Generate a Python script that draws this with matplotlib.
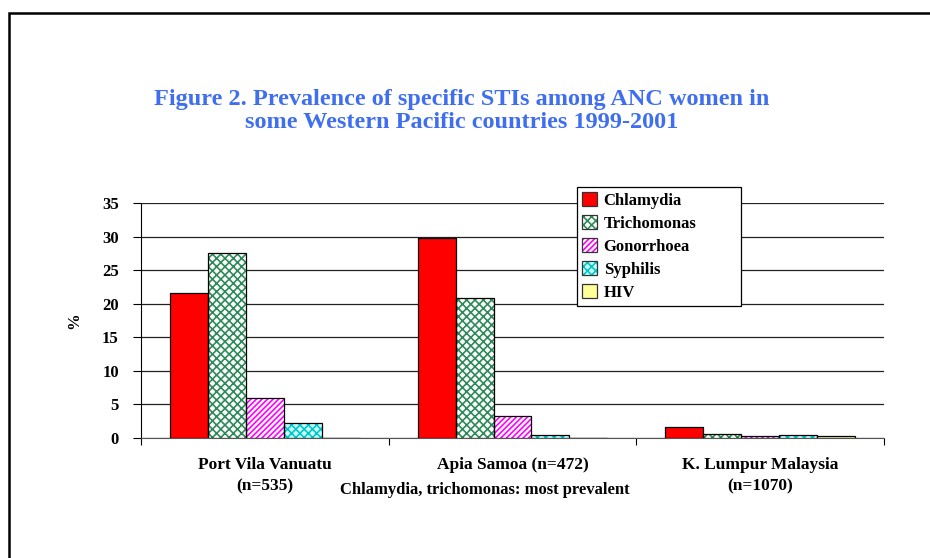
# Prevalence of specific STIs among ANC women, grouped bars by site
import numpy as np
import matplotlib.pyplot as plt
from matplotlib.patches import Patch, Rectangle

sites = ["Port Vila Vanuatu\n(n=535)", "Apia Samoa (n=472)", "K. Lumpur Malaysia\n(n=1070)"]
infections = ["Chlamydia", "Trichomonas", "Gonorrhoea", "Syphilis", "HIV"]
chlamydia = [21.6, 29.8, 1.6]
trichomonas = [27.5, 20.8, 0.55]
gonorrhoea = [5.9, 3.3, 0.25]
syphilis = [2.3, 0.5, 0.4]
hiv = [0.0, 0.0, 0.25]
series = [chlamydia, trichomonas, gonorrhoea, syphilis, hiv]

# face, hatch, hatch colour for each series
styles = [
    ("#FF0000", None, "#FF0000"),
    ("#FFFFFF", "xxxx", "#2E8B57"),
    ("#FFFFFF", "//////", "#FF00FF"),
    ("#CCFFFF", "xxxx", "#00C8C8"),
    ("#FFFF99", None, "#FFFF99"),
]

serif = "Liberation Serif"
blue = "#3F6FF0"
plt.rcParams["hatch.linewidth"] = 1.2

fig = plt.figure(figsize=(9.3, 5.58), dpi=100)
ax = fig.add_axes([141/930, 1 - 438/558, 743/930, 235/558])

x = np.arange(len(sites))
w = 0.153
handles = []
for i, (vals, (fc, hatch, hc)) in enumerate(zip(series, styles)):
    pos = x - 2*w + i*w
    ax.bar(pos, vals, w, color=fc, hatch=hatch, edgecolor=hc, linewidth=0, zorder=3)
    ax.bar(pos, vals, w, fill=False, edgecolor="black", linewidth=0.9, zorder=4)
    handles.append((Patch(facecolor=fc, hatch=hatch, edgecolor=hc, linewidth=0),
                    Patch(fill=False, edgecolor="#333333", linewidth=0.9)))

ax.set_xlim(-0.5, 2.5)
ax.set_ylim(0, 35)
ax.set_yticks(range(0, 36, 5))
ax.yaxis.grid(True, color="#222222", linewidth=0.9, zorder=0)
ax.set_axisbelow(True)
for s in ["top", "right"]:
    ax.spines[s].set_visible(False)
ax.spines["left"].set_color("black")
ax.spines["bottom"].set_color("#555555")

ax.set_xticks([-0.5, 0.5, 1.5, 2.5])
ax.set_xticklabels([])
ax.set_xticks(x, minor=True)
ax.set_xticklabels(sites, minor=True, fontfamily=serif, fontweight="bold", fontsize=12.5,
                   linespacing=1.45)
ax.tick_params(axis="x", which="minor", length=0, pad=14)
ax.tick_params(axis="x", which="major", length=5, direction="out")
ax.tick_params(axis="y", length=6, direction="out", pad=10)
for t in ax.get_yticklabels():
    t.set_fontfamily(serif)
    t.set_fontweight("bold")
    t.set_fontsize(12)

ax.set_ylabel("%", fontfamily=serif, fontweight="bold", fontsize=12, labelpad=14)

leg = ax.legend(handles, infections, loc="upper left", mode="expand",
                bbox_to_anchor=(436/743, 1 + 16/235, 164/743, 0),
                prop={"family": serif, "weight": "bold", "size": 12},
                frameon=True, fancybox=False, edgecolor="black", framealpha=1,
                handlelength=0.9, handleheight=0.9, handletextpad=0.4,
                labelspacing=0.38, borderpad=0.3, borderaxespad=0)
leg.get_frame().set_linewidth(0.9)

fig.text(462/930, 1 - 111/558, "Figure 2. Prevalence of specific STIs among ANC women in\nsome Western Pacific countries 1999-2001",
         ha="center", va="center", color=blue, fontfamily=serif, fontweight="bold",
         fontsize=17.5, linespacing=1.15)
fig.text(485/930, 1 - 490/558, "Chlamydia, trichomonas: most prevalent", ha="center", va="center",
         fontfamily=serif, fontweight="bold", fontsize=12)

fig.patches.append(Rectangle((9/930, -0.1), 1.2, 1 - 13/558 + 0.1, transform=fig.transFigure,
                             fill=False, edgecolor="black", linewidth=1.8, clip_on=False))

fig.savefig("out.png", dpi=100)
